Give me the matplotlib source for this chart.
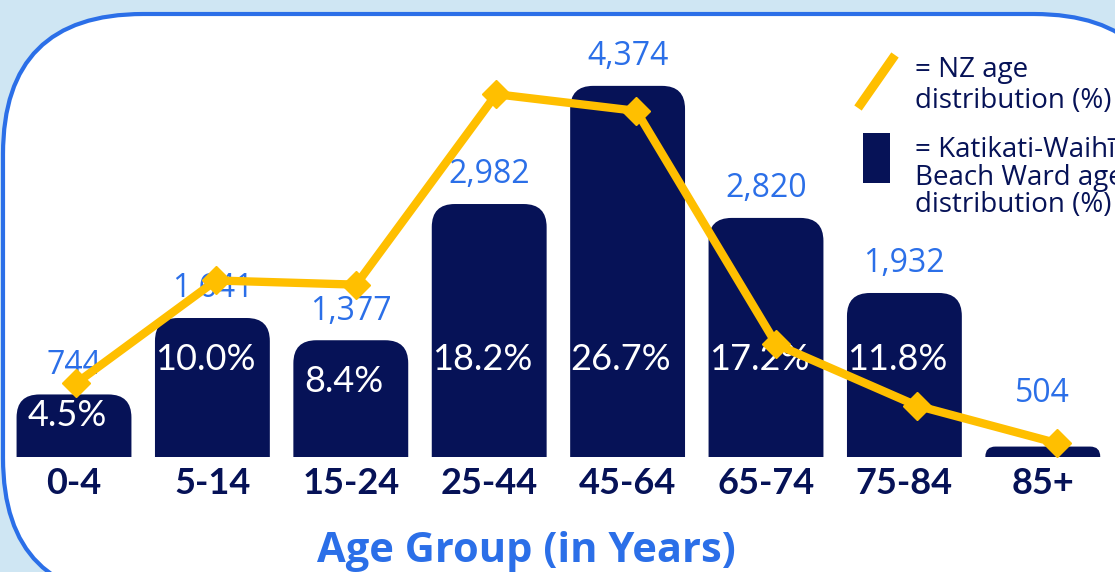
# Age distribution chart: Katikati-Waihi Beach Ward bars vs NZ line
import matplotlib
matplotlib.use("Agg")
import matplotlib.pyplot as plt
from matplotlib.patches import FancyBboxPatch, Rectangle
from matplotlib.lines import Line2D
from matplotlib.transforms import IdentityTransform

# data
age_groups = ["0-4", "5-14", "15-24", "25-44", "45-64", "65-74", "75-84", "85+"]
ward_counts = ["744", "1,641", "1,377", "2,982", "4,374", "2,820", "1,932", "504"]
ward_pct = [4.5, 10.0, 8.4, 18.2, 26.7, 17.2, 11.8, 0.75]
ward_pct_labels = ["4.5%", "10.0%", "8.4%", "18.2%", "26.7%", "17.2%", "11.8%", ""]
nz_pct = [5.3, 12.7, 12.4, 26.1, 24.9, 8.1, 3.7, 1.0]

navy = "#061257"
gold = "#ffbf00"
blue = "#2b6fe8"
sky = "#cfe6f3"

W, H = 1115, 572
fig = plt.figure(figsize=(W / 100, H / 100), dpi=100, facecolor=sky)

# white rounded panel with blue border (pixel coords)
panel = FancyBboxPatch((3, -26), 1171, 584,
                       boxstyle="round,pad=0,rounding_size=140",
                       transform=IdentityTransform(), facecolor="white",
                       edgecolor=blue, linewidth=3, zorder=-1)
fig.patches.append(panel)

ax_rect = [4.8 / W, 115 / H, 1107.2 / W, 457 / H]
ax = fig.add_axes(ax_rect)
ax.set_facecolor("none")
ax.set_xlim(-0.5, 7.5)
ax.set_ylim(0, 457 / 13.9)
for s in ax.spines.values():
    s.set_visible(False)
ax.set_yticks([])

bar_w = 0.83
px_x = 138.4  # pixels per category
px_y = 13.9   # pixels per percent
aspect = px_x / px_y
rad = 23 / px_x
for i, h in enumerate(ward_pct):
    r = rad if h * px_y > 30 else 10 / px_x
    bar = FancyBboxPatch((i - bar_w / 2, -3), bar_w, h + 3,
                         boxstyle="round,pad=0,rounding_size=%f" % r,
                         mutation_aspect=aspect, facecolor=navy,
                         edgecolor="none", zorder=2)
    ax.add_patch(bar)
    # count above bar
    ax.text(i, max(h, 2.5) + 2.1, ward_counts[i], ha="center", va="center",
            color=blue, fontsize=23, family="Open Sans", zorder=3)
    if ward_pct_labels[i]:
        ax.text(i - 0.05, max(min(h - 3.0, 7.0), 3.0), ward_pct_labels[i],
                ha="center", va="center", color="white", fontsize=26,
                family="Lato", zorder=3)

ax.set_xticks(range(len(age_groups)))
ax.set_xticklabels(age_groups, fontsize=26, fontweight="bold", color=navy,
                   family="Lato")
ax.tick_params(axis="x", length=0, pad=7)

# the NZ line sits on its own, slightly wider overlay in the original
ax2 = fig.add_axes(ax_rect)
ax2.set_facecolor("none")
ax2.axis("off")
ax2.set_xlim(-0.508, 7.395)
ax2.set_ylim(ax.get_ylim())
ax2.plot(range(len(nz_pct)), nz_pct, color=gold, linewidth=6, marker="D",
         markersize=14, solid_joinstyle="miter", clip_on=False)

fig.text(526 / W, 1 - 551 / H, "Age Group (in Years)", ha="center",
         va="center", color=blue, fontsize=30, fontweight="bold",
         family="Open Sans")

# hand-made legend
fig.add_artist(Line2D([858 / W, 895 / W], [1 - 108 / H, 1 - 55 / H],
                      color=gold, linewidth=6.5, solid_capstyle="butt"))
fig.add_artist(Rectangle((863 / W, 1 - 183 / H), 27 / W, 50 / H,
                         facecolor=navy, edgecolor="none"))
fig.text(915 / W, 1 - 56 / H, "= NZ age\ndistribution (%)", ha="left",
         va="top", color=navy, fontsize=20, family="Open Sans",
         linespacing=1.12)
fig.text(915 / W, 1 - 136 / H, "= Katikati-Waihī\nBeach Ward age\ndistribution (%)",
         ha="left", va="top", color=navy, fontsize=20, family="Open Sans",
         linespacing=0.98)

fig.savefig("out.png", dpi=100, facecolor=sky)
